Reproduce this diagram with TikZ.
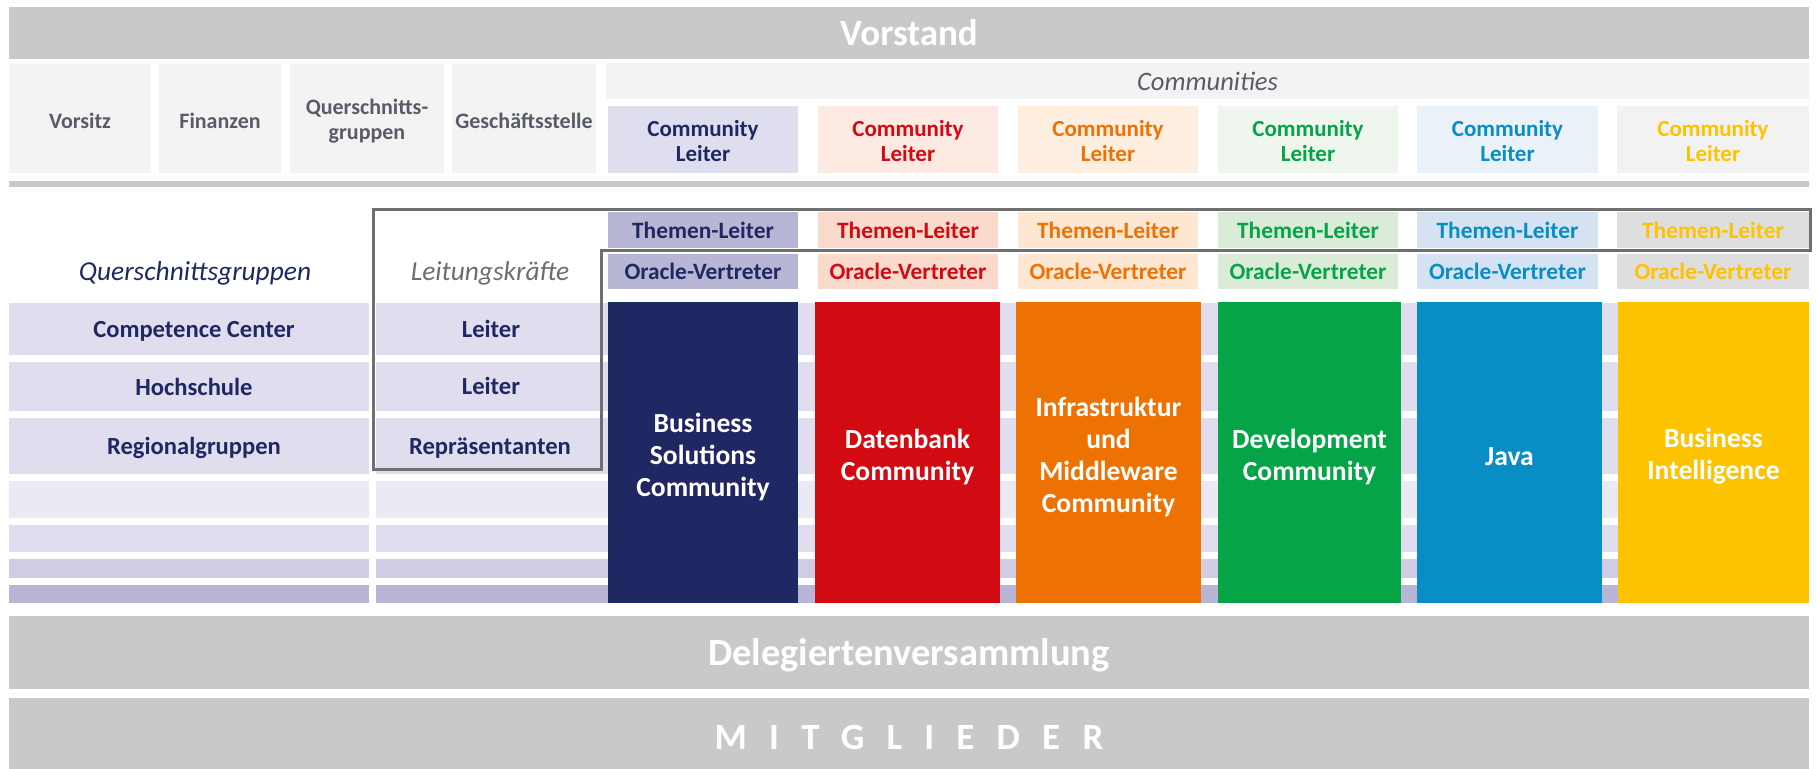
\documentclass[tikz,border=0pt]{standalone}
\usepackage{fontspec}
\setmainfont{Carlito}
\newfontfamily\spacedfont[LetterSpace=60]{Carlito}
\usetikzlibrary{fit}
\definecolor{hdrgray}{HTML}{C9C9C9}
\definecolor{lightgray}{HTML}{F3F3F3}
\definecolor{txtgray}{HTML}{585C68}
\definecolor{itgray}{HTML}{6E6E6E}
\definecolor{linegray}{HTML}{6F6F6F}
\definecolor{navy}{HTML}{1F2862}
\definecolor{cred}{HTML}{D20B12}
\definecolor{corange}{HTML}{EE7203}
\definecolor{cgreen}{HTML}{05A447}
\definecolor{cblue}{HTML}{088DC5}
\definecolor{cyellow}{HTML}{FDC300}
\definecolor{clA}{HTML}{DFDEEE}
\definecolor{clB}{HTML}{FCE9E1}
\definecolor{clC}{HTML}{FEEEE0}
\definecolor{clD}{HTML}{EEF6EE}
\definecolor{clE}{HTML}{EBF1F9}
\definecolor{clF}{HTML}{F2F2F2}
\definecolor{thA}{HTML}{B8B6D5}
\definecolor{thB}{HTML}{F9DACC}
\definecolor{thC}{HTML}{FDE6D2}
\definecolor{thD}{HTML}{DAEBD7}
\definecolor{thE}{HTML}{D4E2F1}
\definecolor{thF}{HTML}{DEDEDE}
\definecolor{rowA}{HTML}{E0DEEE}
\definecolor{rowB}{HTML}{EBE9F4}
\definecolor{rowC}{HTML}{CFCCE4}
\definecolor{rowD}{HTML}{B9B5D6}
% #1 box style, #2 name, #3-#6 corners, #7 text style, #8 text
\newcommand\cellbox[8][]{%
  \node[cell,fit={(#3,#4) (#5,#6)},#1] (#2) {};
  \node[cell,#7] (#2-t) at (#2.center) {#8};}
\begin{document}
\begin{tikzpicture}[x=0.5pt,y=-0.5pt,
  cell/.style={inner sep=0pt, outer sep=0pt, draw=none, align=center},
  bigtxt/.style={text=white, font=\bfseries\fontsize{18.5}{20}\selectfont},
  toptxt/.style={text=txtgray, yshift=-1.2pt, font=\bfseries\fontsize{11}{12.5}\selectfont},
  leiter/.style={yshift=-1pt, font=\bfseries\fontsize{11.5}{12.5}\selectfont},
  thema/.style={font=\bfseries\fontsize{11.7}{12}\selectfont},
  bigcom/.style={text=white, yshift=-2pt, font=\bfseries\fontsize{13.8}{16}\selectfont},
  leftitem/.style={text=navy, text depth=0pt, font=\bfseries\fontsize{12.3}{13}\selectfont},
  outline/.style={draw=linegray, line width=1.5pt}
]
\useasboundingbox (0,0) rectangle (1816,769);
% top bar
\cellbox[fill=hdrgray]{vorstand}{9}{7}{1809}{59}{bigtxt}{Vorstand}
% board items
\cellbox[fill=lightgray]{vorsitz}{9}{64}{151}{173}{toptxt}{Vorsitz}
\cellbox[fill=lightgray]{finanzen}{159}{64}{281}{173}{toptxt}{Finanzen}
\cellbox[fill=lightgray]{quer}{290}{64}{444}{173}{toptxt}{Querschnitts-\\gruppen}
\cellbox[fill=lightgray]{gst}{452}{64}{596}{173}{toptxt}{Geschäftsstelle}
\cellbox[fill=lightgray]{communities}{606}{63}{1809}{99}{text=txtgray, font=\itshape\fontsize{13.3}{14}\selectfont}{Communities}
% community leaders
\cellbox[fill=clA]{clA}{608}{106}{798}{173}{leiter, text=navy}{Community\\Leiter}
\cellbox[fill=clB]{clB}{818}{106}{998}{173}{leiter, text=cred}{Community\\Leiter}
\cellbox[fill=clC]{clC}{1018}{106}{1198}{173}{leiter, text=corange}{Community\\Leiter}
\cellbox[fill=clD]{clD}{1218}{106}{1398}{173}{leiter, text=cgreen}{Community\\Leiter}
\cellbox[fill=clE]{clE}{1417}{106}{1598}{173}{leiter, text=cblue}{Community\\Leiter}
\cellbox[fill=clF]{clF}{1617}{106}{1809}{173}{leiter, text=cyellow}{Community\\Leiter}
% thin bar
\node[cell,fill=hdrgray,fit={(9,181) (1809,187)}] (thinbar) {};
% Themen-Leiter / Oracle-Vertreter
\cellbox[fill=thA]{thA}{608}{212}{798}{248}{thema, text=navy}{Themen-Leiter}
\cellbox[fill=thB]{thB}{818}{212}{998}{248}{thema, text=cred}{Themen-Leiter}
\cellbox[fill=thC]{thC}{1018}{212}{1198}{248}{thema, text=corange}{Themen-Leiter}
\cellbox[fill=thD]{thD}{1218}{212}{1398}{248}{thema, text=cgreen}{Themen-Leiter}
\cellbox[fill=thE]{thE}{1417}{212}{1598}{248}{thema, text=cblue}{Themen-Leiter}
\cellbox[fill=thF]{thF}{1617}{212}{1809}{248}{thema, text=cyellow}{Themen-Leiter}
\cellbox[fill=thA]{ovA}{608}{254}{798}{289}{thema, text=navy}{Oracle-Vertreter}
\cellbox[fill=thB]{ovB}{818}{254}{998}{289}{thema, text=cred}{Oracle-Vertreter}
\cellbox[fill=thC]{ovC}{1018}{254}{1198}{289}{thema, text=corange}{Oracle-Vertreter}
\cellbox[fill=thD]{ovD}{1218}{254}{1398}{289}{thema, text=cgreen}{Oracle-Vertreter}
\cellbox[fill=thE]{ovE}{1417}{254}{1598}{289}{thema, text=cblue}{Oracle-Vertreter}
\cellbox[fill=thF]{ovF}{1617}{254}{1809}{289}{thema, text=cyellow}{Oracle-Vertreter}
% column headings
\node[text=navy, font=\itshape\fontsize{13.7}{15}\selectfont] (qhead) at (195,273) {Querschnittsgruppen};
\node[text=itgray, font=\itshape\fontsize{13.7}{15}\selectfont] (lhead) at (490,273) {Leitungskräfte};
% row stripes
\cellbox[fill=rowA]{rl1}{9}{303}{369}{355}{leftitem, xshift=2.5pt}{Competence Center}
\cellbox[fill=rowA]{rl2}{9}{362}{369}{411}{leftitem, xshift=2.5pt}{Hochschule}
\cellbox[fill=rowA]{rl3}{9}{418}{369}{474}{leftitem, xshift=2.5pt}{Regionalgruppen}
\node[cell,fill=rowB,fit={(9,481) (369,518)}] (rl4) {};
\node[cell,fill=rowA,fit={(9,525) (369,552)}] (rl5) {};
\node[cell,fill=rowC,fit={(9,559) (369,578)}] (rl6) {};
\node[cell,fill=rowD,fit={(9,585) (369,603)}] (rl7) {};
\node[cell,fill=rowA,fit={(376,303) (1809,355)}] (rr1) {};
\node[cell,fill=rowA,fit={(376,362) (1809,411)}] (rr2) {};
\node[cell,fill=rowA,fit={(376,418) (1809,474)}] (rr3) {};
\node[cell,fill=rowB,fit={(376,481) (1809,518)}] (rr4) {};
\node[cell,fill=rowA,fit={(376,525) (1809,552)}] (rr5) {};
\node[cell,fill=rowC,fit={(376,559) (1809,578)}] (rr6) {};
\node[cell,fill=rowD,fit={(376,585) (1809,603)}] (rr7) {};
\node[leftitem] (lei1) at (491,329) {Leiter};
\node[leftitem] (lei2) at (491,386) {Leiter};
\node[leftitem] (rep) at (490,446) {Repräsentanten};
% big community columns
\cellbox[fill=navy]{bsc}{608}{302}{798}{603}{bigcom}{Business\\Solutions\\Community}
\cellbox[fill=cred]{dbc}{815}{302}{1000}{603}{bigcom}{Datenbank\\Community}
\cellbox[fill=corange]{imc}{1016}{302}{1201}{603}{bigcom}{Infrastruktur\\und\\Middleware\\Community}
\cellbox[fill=cgreen]{dev}{1218}{302}{1401}{603}{bigcom}{Development\\Community}
\cellbox[fill=cblue]{java}{1417}{302}{1602}{603}{bigcom}{Java}
\cellbox[fill=cyellow]{bi}{1618}{302}{1809}{603}{bigcom}{Business\\Intelligence}
% outline
\draw[outline] (373,210) -| (1810,251) -| (601,470) -| cycle;
% bottom bars
\cellbox[fill=hdrgray]{dv}{9}{616}{1809}{689}{text=white, text depth=0pt, font=\bfseries\fontsize{19.2}{20}\selectfont}{Delegiertenversammlung}
\cellbox[fill=hdrgray]{mitglieder}{9}{698}{1809}{769}{text=white, yshift=-2pt, font=\spacedfont\bfseries\fontsize{18.5}{20}\selectfont}{MITGLIEDER}
\end{tikzpicture}
\end{document}
